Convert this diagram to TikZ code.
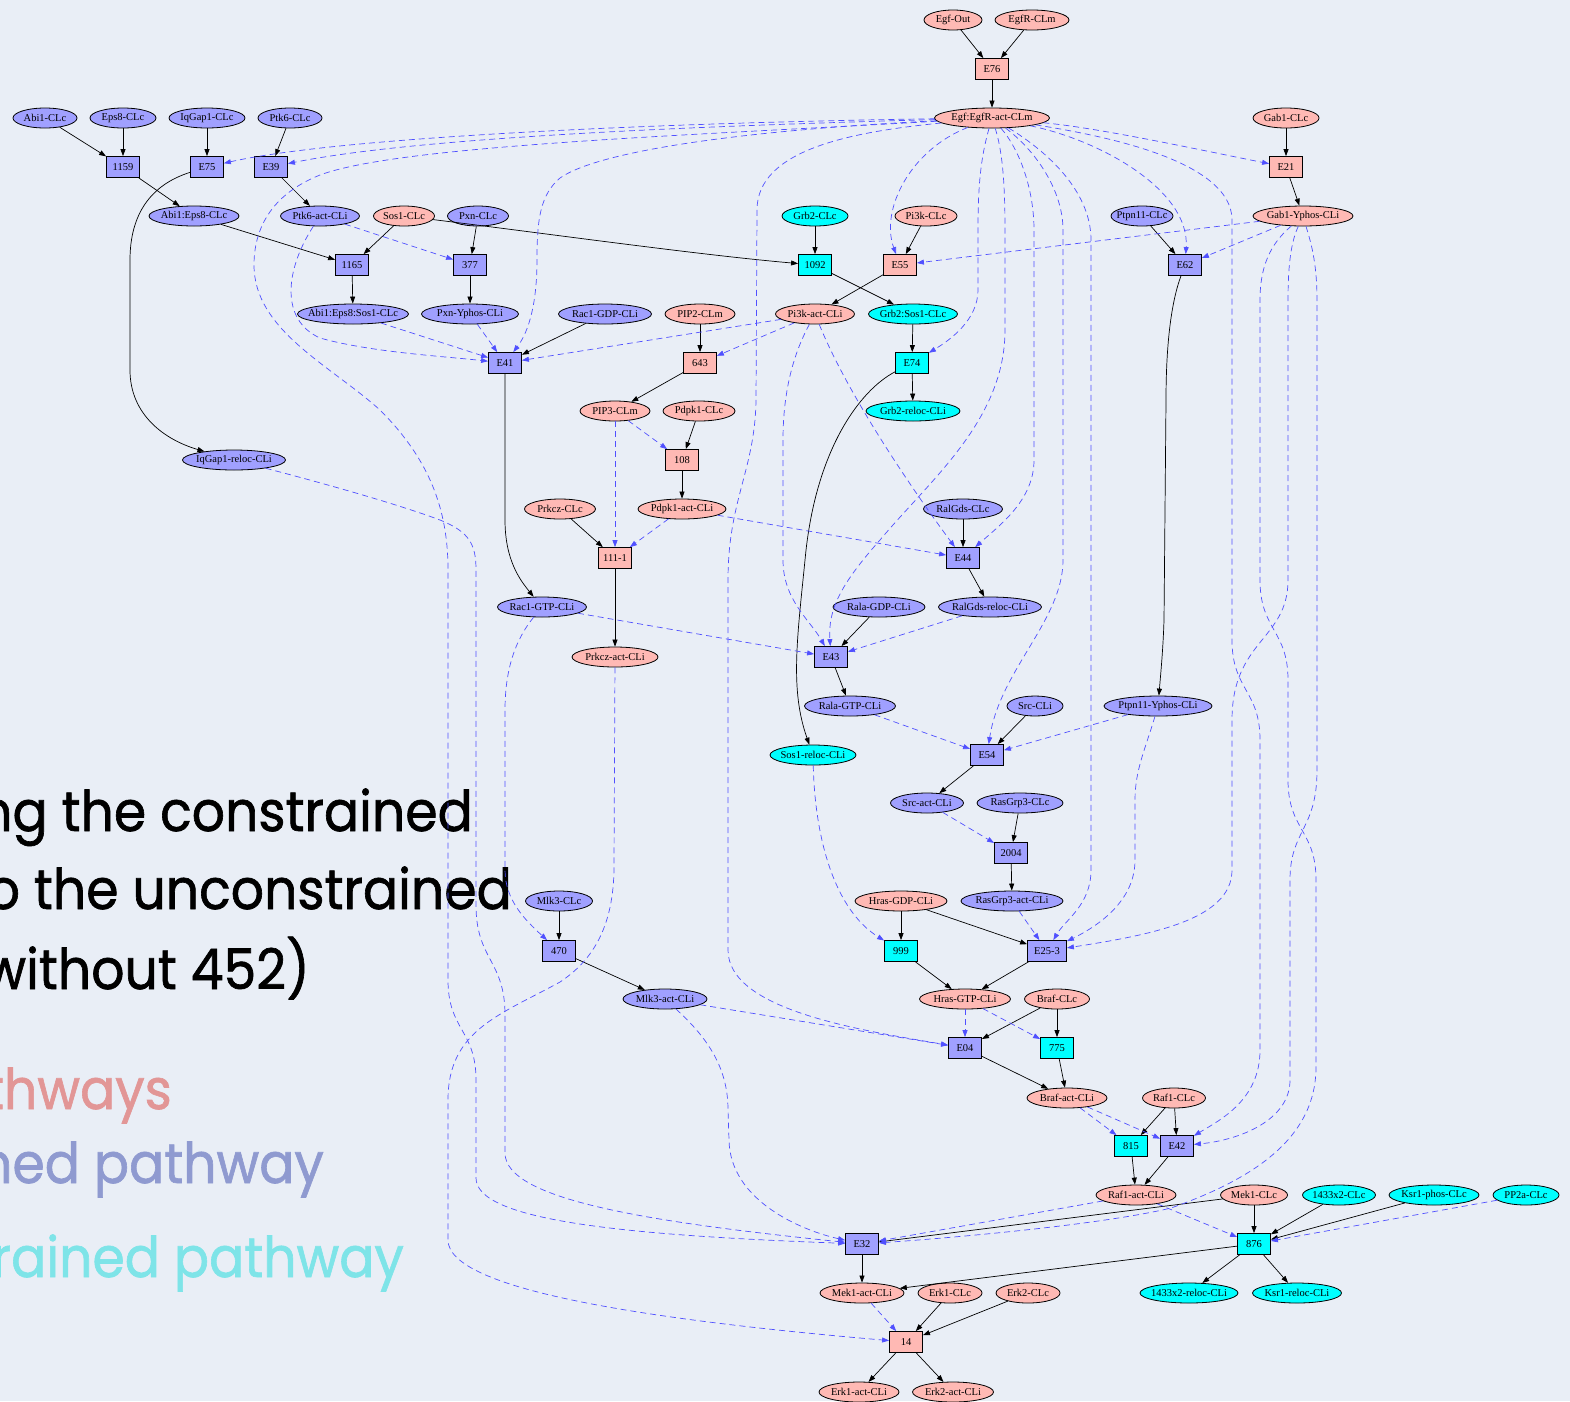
\documentclass[tikz,border=0pt]{standalone}
\usepackage{fontspec}
\usetikzlibrary{arrows.meta,shapes.geometric}
\newfontfamily\gvfont{Liberation Serif}
\newfontfamily\handfont{Poppins}[FakeBold=1.2]
\definecolor{paper}{RGB}{233,238,246}
\definecolor{pinkfill}{RGB}{255,185,180}
\definecolor{bluefill}{RGB}{160,160,255}
\definecolor{cyanfill}{RGB}{0,255,255}
\definecolor{dashblue}{RGB}{80,80,255}
\definecolor{hpink}{RGB}{226,150,150}
\definecolor{hblue}{RGB}{143,154,208}
\definecolor{hcyan}{RGB}{126,228,232}
\newcommand{\slidetext}[1]{\scalebox{0.93}[1]{#1}}
\tikzset{
  base/.style={draw=black, line width=0.8pt, text=black,
    font={\gvfont\fontsize{10.5}{12}\selectfont}},
  ell/.style={base, ellipse, inner xsep=-30pt, inner ysep=-8pt, minimum height=20pt},
  box/.style={base, rectangle, inner sep=0pt, minimum width=33pt, minimum height=21pt},
  pk/.style={fill=pinkfill}, bl/.style={fill=bluefill}, cy/.style={fill=cyanfill},
  sol/.style={draw=black, line width=0.7pt, -{Triangle[length=7pt,width=5pt]}},
  dsh/.style={draw=dashblue, line width=0.7pt, dash pattern=on 6pt off 4pt,
    -{Triangle[length=7pt,width=5pt]}},
  hand/.style={anchor=base east, inner sep=0pt, font={\handfont\fontsize{56}{60}\selectfont}},
}
\begin{document}
\begin{tikzpicture}[x=1pt,y=-1pt]
\useasboundingbox (0,0) rectangle (1570,1401);
\fill[paper] (0,0) rectangle (1570,1401);

% slide text behind the network
\node[hand, text=black] (t1) at (473,831) {\slidetext{ng the constrained}};
\node[hand, text=black] (t2) at (512,909) {\slidetext{o the unconstrained}};
\node[hand, text=black] (t3) at (310,989) {\slidetext{without 452)}};
\node[hand, text=hpink] (t4) at (172,1109) {\slidetext{thways}};
\node[hand, text=hblue] (t5) at (324,1183) {\slidetext{ned pathway}};
\node[hand, text=hcyan] (t6) at (404,1277) {\slidetext{rained pathway}};

% species and reactions
\node[ell,pk,minimum width=58] (egfout) at (953,20) {Egf-Out};
\node[ell,pk,minimum width=74] (egfrclm) at (1032,20) {EgfR-CLm};
\node[box,pk] (e76) at (992,69) {E76};
\node[ell,bl,minimum width=64] (abi1) at (45,118) {Abi1-CLc};
\node[ell,bl,minimum width=66] (eps8) at (123,118) {Eps8-CLc};
\node[ell,bl,minimum width=76] (iqgap1) at (207,118) {IqGap1-CLc};
\node[ell,bl,minimum width=64] (ptk6) at (290,118) {Ptk6-CLc};
\node[ell,pk,minimum width=115] (egf) at (992,118) {Egf:EgfR-act-CLm};
\node[ell,pk,minimum width=66] (gab1) at (1286,118) {Gab1-CLc};
\node[box,bl] (n1159) at (123,167) {1159};
\node[box,bl] (e75) at (207,167) {E75};
\node[box,bl] (e39) at (271,167) {E39};
\node[box,pk] (e21) at (1286,167) {E21};
\node[ell,bl,minimum width=90] (abieps8) at (194,216) {Abi1:Eps8-CLc};
\node[ell,bl,minimum width=79] (ptk6act) at (320,216) {Ptk6-act-CLi};
\node[ell,pk,minimum width=61] (sos1) at (404,216) {Sos1-CLc};
\node[ell,bl,minimum width=61] (pxn) at (478,216) {Pxn-CLc};
\node[ell,cy,minimum width=66] (grb2) at (815,216) {Grb2-CLc};
\node[ell,pk,minimum width=62] (pi3k) at (926,216) {Pi3k-CLc};
\node[ell,bl,minimum width=62] (ptpn11) at (1142,216) {Ptpn11-CLc};
\node[ell,pk,minimum width=100] (gab1yp) at (1303,216) {Gab1-Yphos-CLi};
\node[box,bl] (n1165) at (352,265) {1165};
\node[box,bl] (n377) at (470,265) {377};
\node[box,cy] (n1092) at (815,265) {1092};
\node[box,pk] (e55) at (900,265) {E55};
\node[box,bl] (e62) at (1185,265) {E62};
\node[ell,bl,minimum width=111] (abieps8sos1) at (353,314) {Abi1:Eps8:Sos1-CLc};
\node[ell,bl,minimum width=97] (pxnyp) at (470,314) {Pxn-Yphos-CLi};
\node[ell,bl,minimum width=93] (rac1gdp) at (605,314) {Rac1-GDP-CLi};
\node[ell,pk,minimum width=70] (pip2) at (700,314) {PIP2-CLm};
\node[ell,pk,minimum width=79] (pi3kact) at (815,314) {Pi3k-act-CLi};
\node[ell,cy,minimum width=89] (grb2sos1) at (913,314) {Grb2:Sos1-CLc};
\node[box,bl] (e41) at (505,363) {E41};
\node[box,pk] (n643) at (700,363) {643};
\node[box,cy] (e74) at (912,363) {E74};
\node[ell,pk,minimum width=70] (pip3) at (615,411) {PIP3-CLm};
\node[ell,pk,minimum width=72] (pdpk1) at (699,411) {Pdpk1-CLc};
\node[ell,cy,minimum width=94] (grb2reloc) at (913,411) {Grb2-reloc-CLi};
\node[ell,bl,minimum width=103] (iqgapreloc) at (234,460) {IqGap1-reloc-CLi};
\node[box,pk] (n108) at (682,460) {108};
\node[ell,pk,minimum width=71] (prkcz) at (560,509) {Prkcz-CLc};
\node[ell,pk,minimum width=88] (pdpk1act) at (682,509) {Pdpk1-act-CLi};
\node[ell,bl,minimum width=79] (ralgds) at (963,509) {RalGds-CLc};
\node[box,pk] (n1111) at (615,558) {111-1};
\node[box,bl] (e44) at (963,558) {E44};
\node[ell,bl,minimum width=89] (rac1gtp) at (542,607) {Rac1-GTP-CLi};
\node[ell,bl,minimum width=92] (ralagdp) at (879,607) {Rala-GDP-CLi};
\node[ell,bl,minimum width=103] (ralgdsreloc) at (990,607) {RalGds-reloc-CLi};
\node[ell,pk,minimum width=86] (prkczact) at (615,657) {Prkcz-act-CLi};
\node[box,bl] (e43) at (831,657) {E43};
\node[ell,bl,minimum width=91] (ralagtp) at (850,706) {Rala-GTP-CLi};
\node[ell,bl,minimum width=56] (src) at (1035,706) {Src-CLi};
\node[ell,bl,minimum width=108] (ptpn11yp) at (1158,706) {Ptpn11-Yphos-CLi};
\node[ell,cy,minimum width=86] (sos1reloc) at (813,755) {Sos1-reloc-CLi};
\node[box,bl] (e54) at (987,755) {E54};
\node[ell,bl,minimum width=73] (srcact) at (927,803) {Src-act-CLi};
\node[ell,bl,minimum width=86] (rasgrp3) at (1020,803) {RasGrp3-CLc};
\node[box,bl] (n2004) at (1011,853) {2004};
\node[ell,bl,minimum width=67] (mlk3) at (559,901) {Mlk3-CLc};
\node[ell,pk,minimum width=92] (hrasgdp) at (901,901) {Hras-GDP-CLi};
\node[ell,bl,minimum width=102] (rasgrp3act) at (1012,901) {RasGrp3-act-CLi};
\node[box,bl] (n470) at (559,951) {470};
\node[box,cy] (n999) at (901,951) {999};
\node[box,bl,minimum width=39] (e253) at (1047,951) {E25-3};
\node[ell,bl,minimum width=84] (mlk3act) at (665,999) {Mlk3-act-CLi};
\node[ell,pk,minimum width=91] (hrasgtp) at (965,999) {Hras-GTP-CLi};
\node[ell,pk,minimum width=65] (braf) at (1057,999) {Braf-CLc};
\node[box,bl] (e04) at (965,1048) {E04};
\node[box,cy] (n775) at (1057,1048) {775};
\node[ell,pk,minimum width=80] (brafact) at (1067,1098) {Braf-act-CLi};
\node[ell,pk,minimum width=63] (raf1) at (1174,1098) {Raf1-CLc};
\node[box,cy] (n815) at (1131,1146) {815};
\node[box,bl] (e42) at (1177,1146) {E42};
\node[ell,pk,minimum width=80] (raf1act) at (1136,1195) {Raf1-act-CLi};
\node[ell,pk,minimum width=67] (mek1) at (1254,1195) {Mek1-CLc};
\node[ell,cy,minimum width=73] (c1433) at (1339,1195) {1433x2-CLc};
\node[ell,cy,minimum width=90] (ksr1phos) at (1434,1195) {Ksr1-phos-CLc};
\node[ell,cy,minimum width=66] (pp2a) at (1526,1195) {PP2a-CLc};
\node[box,bl] (e32) at (862,1244) {E32};
\node[box,cy] (n876) at (1254,1244) {876};
\node[ell,pk,minimum width=84] (mek1act) at (862,1293) {Mek1-act-CLi};
\node[ell,pk,minimum width=64] (erk1) at (950,1293) {Erk1-CLc};
\node[ell,pk,minimum width=64] (erk2) at (1028,1293) {Erk2-CLc};
\node[ell,cy,minimum width=98] (r1433) at (1189,1293) {1433x2-reloc-CLi};
\node[ell,cy,minimum width=89] (ksr1reloc) at (1297,1293) {Ksr1-reloc-CLi};
\node[box,pk] (n14) at (906,1342) {14};
\node[ell,pk,minimum width=80] (erk1act) at (859,1392) {Erk1-act-CLi};
\node[ell,pk,minimum width=81] (erk2act) at (953,1392) {Erk2-act-CLi};

% reactant / product arcs
\foreach \a/\b in {egfout/e76, egfrclm/e76, e76/egf, abi1/n1159, eps8/n1159,
  n1159/abieps8, iqgap1/e75, ptk6/e39, e39/ptk6act, abieps8/n1165, sos1/n1165,
  n1165/abieps8sos1, pxn/n377, n377/pxnyp, grb2/n1092, n1092/grb2sos1, pi3k/e55,
  e55/pi3kact, gab1/e21, e21/gab1yp, ptpn11/e62, rac1gdp/e41, pip2/n643, n643/pip3,
  grb2sos1/e74, e74/grb2reloc, pdpk1/n108, n108/pdpk1act, prkcz/n1111,
  n1111/prkczact, ralgds/e44, e44/ralgdsreloc, ralagdp/e43, e43/ralagtp, src/e54,
  e54/srcact, rasgrp3/n2004, n2004/rasgrp3act, mlk3/n470, n470/mlk3act,
  hrasgdp/n999, hrasgdp/e253, n999/hrasgtp, e253/hrasgtp, braf/e04, braf/n775,
  e04/brafact, n775/brafact, raf1/n815, raf1/e42, n815/raf1act, e42/raf1act,
  mek1/e32, mek1/n876, c1433/n876, ksr1phos/n876, n876/mek1act, n876/r1433,
  n876/ksr1reloc, e32/mek1act, erk1/n14, erk2/n14, n14/erk1act, n14/erk2act}
  \draw[sol] (\a) -- (\b);

\draw[sol] (e75) .. controls (150,185) and (130,215) .. (130,260) -- (130,370)
  .. controls (130,415) and (165,440) .. (iqgapreloc);
\draw[sol] (sos1) .. controls (550,234) and (700,255) .. (n1092);
\draw[sol] (e41) -- (505,520) .. controls (505,560) and (520,580) .. (rac1gtp);
\draw[sol] (e74) .. controls (860,390) and (815,450) .. (805,560)
  .. controls (797,640) and (790,690) .. (sos1reloc);
\draw[sol] (e62) .. controls (1172,300) and (1166,340) .. (1166,400) -- (1164,620)
  .. controls (1163,650) and (1161,670) .. (ptpn11yp);

% modifier arcs from Egf:EgfR-act-CLm
\draw[dsh] (egf) .. controls (700,122) and (350,135) .. (e75);
\draw[dsh] (egf) .. controls (700,126) and (420,137) .. (e39);
\draw[dsh] (egf) .. controls (700,135) and (400,145) .. (320,175)
  .. controls (270,195) and (254,230) .. (254,265)
  .. controls (254,330) and (330,365) .. (380,410)
  .. controls (430,460) and (448,510) .. (448,570) -- (448,980)
  .. controls (448,1030) and (476,1030) .. (476,1080) -- (476,1178)
  .. controls (476,1220) and (620,1235) .. (e32);
\draw[dsh] (egf) .. controls (750,130) and (600,150) .. (560,178)
  .. controls (540,195) and (537,220) .. (537,260)
  .. controls (537,300) and (530,330) .. (e41);
\draw[dsh] (egf) .. controls (850,132) and (757,150) .. (757,210) -- (756,400)
  .. controls (755,470) and (728,500) .. (728,580) -- (728,950)
  .. controls (728,1010) and (860,1030) .. (e04);
\draw[dsh] (egf) .. controls (910,150) and (880,210) .. (e55);
\draw[dsh] (egf) .. controls (980,160) and (978,190) .. (978,230) -- (978,290)
  .. controls (978,320) and (950,340) .. (e74);
\draw[dsh] (egf) .. controls (1002,150) and (1005,180) .. (1005,230) -- (1005,330)
  .. controls (1005,420) and (930,480) .. (880,540)
  .. controls (840,585) and (828,610) .. (e43);
\draw[dsh] (egf) .. controls (1020,150) and (1034,190) .. (1034,230) -- (1034,460)
  .. controls (1034,500) and (1000,525) .. (e44);
\draw[dsh] (egf) .. controls (1035,150) and (1063,190) .. (1063,230) -- (1063,560)
  .. controls (1063,620) and (1000,670) .. (e54);
\draw[dsh] (egf) .. controls (1045,150) and (1091,190) .. (1091,240) -- (1091,870)
  .. controls (1091,905) and (1065,920) .. (e253);
\draw[dsh] (egf) .. controls (1100,140) and (1190,190) .. (e62);
\draw[dsh] (egf) .. controls (1100,135) and (1232,160) .. (1232,220) -- (1232,640)
  .. controls (1232,690) and (1260,690) .. (1260,740) -- (1260,1050)
  .. controls (1260,1100) and (1220,1120) .. (e42);
\draw[dsh] (egf) .. controls (1100,128) and (1200,150) .. (e21);

% modifier arcs from Gab1-Yphos-CLi
\draw[dsh] (gab1yp) -- (e55);
\draw[dsh] (gab1yp) -- (e62);
\draw[dsh] (gab1yp) .. controls (1275,240) and (1260,260) .. (1260,300) -- (1260,580)
  .. controls (1260,630) and (1288,630) .. (1288,680) -- (1288,780)
  .. controls (1288,830) and (1316,830) .. (1316,880) -- (1316,1067)
  .. controls (1316,1140) and (1250,1180) .. (1171,1208)
  .. controls (1100,1225) and (950,1238) .. (e32);
\draw[dsh] (gab1yp) .. controls (1292,240) and (1288,260) .. (1288,300) -- (1288,580)
  .. controls (1288,640) and (1232,640) .. (1232,720) -- (1232,870)
  .. controls (1232,920) and (1150,935) .. (e253);
\draw[dsh] (gab1yp) .. controls (1310,240) and (1317,260) .. (1317,300) -- (1317,770)
  .. controls (1317,830) and (1290,830) .. (1290,880) -- (1290,1080)
  .. controls (1290,1120) and (1240,1140) .. (e42);

% remaining modifier arcs
\draw[dsh] (ptk6act) .. controls (285,270) and (280,320) .. (320,338)
  .. controls (370,352) and (440,356) .. (e41);
\draw[dsh] (ptk6act) -- (n377);
\draw[dsh] (abieps8sos1) -- (e41);
\draw[dsh] (pxnyp) -- (e41);
\draw[dsh] (pi3kact) -- (e41);
\draw[dsh] (pi3kact) -- (n643);
\draw[dsh] (pi3kact) .. controls (790,360) and (783,400) .. (783,440) -- (783,560)
  .. controls (783,600) and (810,620) .. (e43);
\draw[dsh] (pi3kact) .. controls (850,400) and (920,500) .. (e44);
\draw[dsh] (pip3) -- (n108);
\draw[dsh] (pip3) -- (n1111);
\draw[dsh] (pdpk1act) -- (n1111);
\draw[dsh] (pdpk1act) -- (e44);
\draw[dsh] (iqgapreloc) .. controls (330,485) and (400,505) .. (440,520)
  .. controls (470,532) and (476,545) .. (476,570) -- (476,905)
  .. controls (476,960) and (505,960) .. (505,1015) -- (505,1153)
  .. controls (505,1200) and (650,1222) .. (e32);
\draw[dsh] (rac1gtp) .. controls (515,640) and (505,670) .. (505,710) -- (505,870)
  .. controls (505,900) and (525,920) .. (n470);
\draw[dsh] (rac1gtp) -- (e43);
\draw[dsh] (ralgdsreloc) -- (e43);
\draw[dsh] (prkczact) -- (614,866) .. controls (614,930) and (590,962) .. (560,982)
  .. controls (500,1015) and (448,1030) .. (448,1100)
  -- (448,1240) .. controls (448,1290) and (650,1320) .. (n14);
\draw[dsh] (mlk3act) -- (e04);
\draw[dsh] (mlk3act) .. controls (710,1040) and (728,1070) .. (728,1110) -- (729,1140)
  .. controls (730,1200) and (800,1230) .. (e32);
\draw[dsh] (hrasgtp) -- (e04);
\draw[dsh] (hrasgtp) -- (n775);
\draw[dsh] (sos1reloc) .. controls (815,840) and (835,910) .. (n999);
\draw[dsh] (ralagtp) -- (e54);
\draw[dsh] (ptpn11yp) -- (e54);
\draw[dsh] (ptpn11yp) .. controls (1145,750) and (1135,770) .. (1135,800) -- (1135,860)
  .. controls (1135,900) and (1100,925) .. (e253);
\draw[dsh] (srcact) -- (n2004);
\draw[dsh] (rasgrp3act) -- (e253);
\draw[dsh] (brafact) -- (n815);
\draw[dsh] (brafact) -- (e42);
\draw[dsh] (raf1act) -- (e32);
\draw[dsh] (raf1act) -- (n876);
\draw[dsh] (pp2a) -- (n876);
\draw[dsh] (mek1act) -- (n14);
\end{tikzpicture}
\end{document}
